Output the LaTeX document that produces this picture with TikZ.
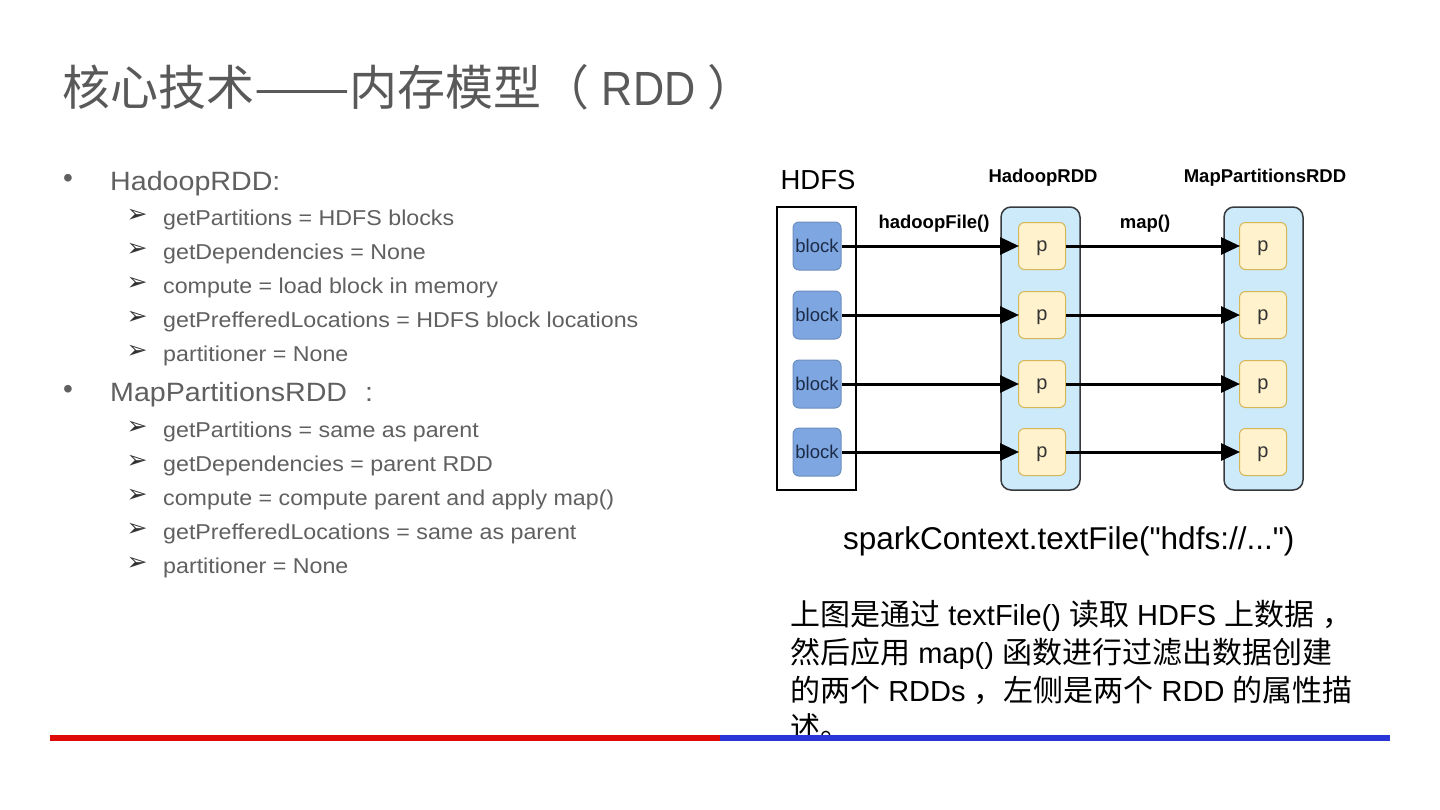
\documentclass[tikz,border=0pt]{standalone}
\usepackage{fontspec}
\usepackage{graphicx}
\setmainfont{Liberation Sans}
\newfontfamily\cjk{Noto Sans CJK SC}
\newfontfamily\dejavu{DejaVu Sans}
\newfontfamily\plainf{Liberation Sans}
\newfontfamily\titlelat{Liberation Sans}[FakeStretch=0.9]
\newfontfamily\bodyf{Liberation Sans}[FakeStretch=1.08]
\usetikzlibrary{arrows.meta}
\definecolor{titlegray}{HTML}{595959}
\definecolor{bodygray}{HTML}{606060}
\definecolor{blockfill}{HTML}{7EA6E0}
\definecolor{blockdraw}{HTML}{6C8EBF}
\definecolor{blocktext}{HTML}{1C2B48}
\definecolor{pfill}{HTML}{FFF2CC}
\definecolor{pdraw}{HTML}{D6B656}
\definecolor{rddfill}{HTML}{CDEAFA}
\definecolor{rdddraw}{HTML}{36393D}
\definecolor{barred}{HTML}{DE0A0A}
\definecolor{barblue}{HTML}{2B36D9}
\newcommand\cj[1]{{\fontsize{30}{34}\selectfont\cjk #1}}
\tikzset{
  lvlone/.style={anchor=base west, inner sep=0, text=bodygray, font=\bodyf\fontsize{26.5}{30}\selectfont},
  lvltwo/.style={anchor=base west, inner sep=0, text=bodygray, font=\bodyf\fontsize{21.5}{26}\selectfont},
  dotmark/.style={inner sep=0, text=bodygray, font=\fontsize{28}{30}\selectfont},
  arrmark/.style={inner sep=0, text=black!80, font=\dejavu\fontsize{25}{26}\selectfont},
  hdfsbox/.style={draw=black, line width=1.5pt, minimum width=79pt, minimum height=283pt, inner sep=0},
  rddbox/.style={draw=rdddraw, fill=rddfill, line width=1.5pt, rounded corners=10pt, minimum width=79pt, minimum height=283pt, inner sep=0},
  blockbox/.style={draw=blockdraw, fill=blockfill, line width=1pt, rounded corners=6pt, minimum width=48pt, minimum height=48pt, inner sep=0, text=blocktext, font=\fontsize{18.5}{20}\selectfont},
  pbox/.style={draw=pdraw, fill=pfill, line width=1pt, rounded corners=6pt, minimum width=47pt, minimum height=47pt, inner sep=0, text=black!80, font=\fontsize{20}{22}\selectfont, text height=13pt, text depth=2pt},
  arr/.style={draw=black, line width=3pt, -{Triangle[length=19pt,width=17pt]}, shorten >=-1pt},
  boldlbl/.style={inner sep=0, font=\bfseries\fontsize{18.5}{22}\selectfont},
}
\begin{document}
\begin{tikzpicture}[x=1pt,y=-1pt]
\useasboundingbox[fill=white] (0,0) rectangle (1440,809);

% title
\node[anchor=base west, inner sep=0, text=titlegray, font=\fontsize{48}{58}\selectfont] (title) at (62,105) {{\cjk 核心技术\scalebox{1.19}[1]{——}内存模型（}{\titlelat\ RDD }{\cjk ）}};

% level one items
\node[dotmark] (d1) at (68,181) {•};
\node[lvlone] (t1) at (110,190) {HadoopRDD:};
\node[dotmark] (d2) at (68,392) {•};
\node[lvlone] (t2) at (110,401) {MapPartitionsRDD\hspace{18pt}:};

% level two items
\foreach \yy/\txt/\nm in {225/getPartitions = HDFS blocks/a1,
  259/getDependencies = None/a2,
  293/compute = load block in memory/a3,
  327/getPrefferedLocations = HDFS block locations/a4,
  361/partitioner = None/a5,
  437/getPartitions = same as parent/b1,
  471/getDependencies = parent RDD/b2,
  505/compute = compute parent and apply map()/b3,
  539/getPrefferedLocations = same as parent/b4,
  573/partitioner = None/b5}{
  \node[arrmark] (m\nm) at (137,\yy-9) {➢};
  \node[lvltwo] (\nm) at (163,\yy) {\txt};
}

% diagram
\node[hdfsbox] (hdfs) at (816.5,348.5) {};
\node[rddbox] (hrdd) at (1040.5,348.5) {};
\node[rddbox] (mrdd) at (1263.5,348.5) {};
\node[inner sep=0, font=\fontsize{27.5}{30}\selectfont] (hdfsl) at (818,180) {HDFS};
\node[boldlbl] (hrddl) at (1043,178) {HadoopRDD};
\node[boldlbl] (mrddl) at (1265,178) {MapPartitionsRDD};
\node[boldlbl] (hfl) at (934,224) {hadoopFile()};
\node[boldlbl] (mapl) at (1145,224) {map()};

\foreach \i/\yy in {1/246,2/315,3/384,4/452}{
  \node[blockbox] (blk\i) at (817,\yy) {block};
  \node[pbox] (hp\i) at (1042,\yy) {p};
  \node[pbox] (mp\i) at (1263,\yy) {p};
  \draw[arr] (blk\i.east) -- (hp\i.west);
  \draw[arr] (hp\i.east) -- (mp\i.west);
}

\node[anchor=base west, inner sep=0, font=\plainf\fontsize{31.5}{36}\selectfont] (spark) at (843,549) {sparkContext.textFile("hdfs://...")};

% paragraph
\begin{scope}[every node/.style={anchor=base west, inner sep=0, font=\plainf\fontsize{29}{34}\selectfont}]
\node (p1) at (790,625) {\cj{上图是通过} textFile() \cj{读取} HDFS \cj{上数据} \cj{，}};
\node (p2) at (790,663) {\cj{然后应用} map() \cj{函数进行过滤出数据创建}};
\node (p3) at (790,701) {\cj{的两个} RDDs \cj{，左侧是两个} RDD \cj{的属性描}};
\node (p4) at (790,738) {\cj{述。}};
\end{scope}

% bottom bars
\fill[barred] (50,735) rectangle (720,741);
\fill[barblue] (720,735) rectangle (1390,741);
\end{tikzpicture}
\end{document}
